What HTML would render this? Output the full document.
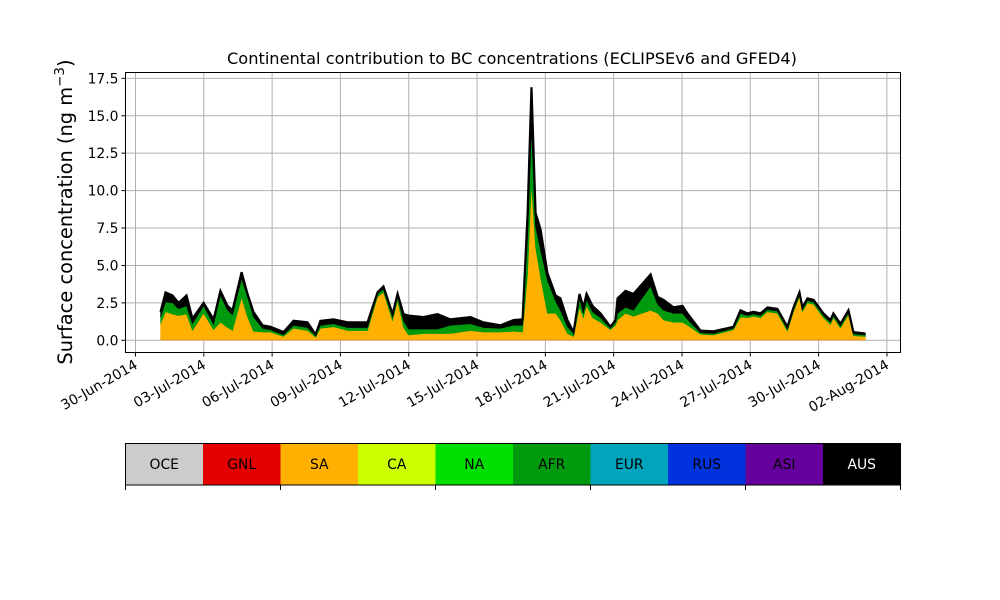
<!DOCTYPE html>
<html><head><meta charset="utf-8"><style>
html,body{margin:0;padding:0;background:#fff;}
svg{display:block;font-family:"DejaVu Sans","Liberation Sans",sans-serif;}
</style></head><body>
<svg id="chart" width="1000" height="600" viewBox="0 0 1000 600"></svg>
<script>
const days=[1.10,1.32,1.62,1.89,2.24,2.50,2.99,3.43,3.73,4.04,4.26,4.66,4.92,5.18,5.58,5.93,6.50,6.94,7.55,7.91,8.12,8.70,9.31,10.19,10.63,10.89,11.29,11.51,11.77,11.99,12.65,13.26,13.83,14.71,15.28,16.03,16.60,17.00,17.22,17.39,17.57,17.79,18.09,18.45,18.66,18.97,19.24,19.50,19.67,19.81,20.07,20.42,20.86,21.08,21.17,21.52,21.87,22.62,22.93,23.19,23.63,24.02,24.24,24.81,25.38,26.26,26.57,26.87,27.14,27.45,27.76,28.19,28.63,28.90,29.16,29.29,29.51,29.78,30.21,30.52,30.65,30.96,31.31,31.53,32.06];
const sa=[1.1,1.9,1.75,1.65,1.75,0.65,1.8,0.7,1.2,0.85,0.65,2.85,1.55,0.6,0.55,0.55,0.25,0.8,0.65,0.2,0.8,0.9,0.65,0.65,2.9,3.2,1.3,2.65,0.85,0.35,0.45,0.45,0.45,0.65,0.55,0.55,0.6,0.55,4.4,10.4,6.2,4.2,1.8,1.8,1.35,0.45,0.25,2.2,1.5,2.3,1.5,1.2,0.7,1.0,1.35,1.8,1.6,2.0,1.8,1.35,1.2,1.2,1.0,0.4,0.35,0.7,1.55,1.5,1.6,1.5,1.9,1.8,0.6,1.9,2.9,1.9,2.5,2.4,1.5,1.05,1.5,0.8,1.7,0.3,0.25];
const afr=[0.45,0.65,0.75,0.45,0.55,0.45,0.5,0.35,1.8,1.15,1.05,1.25,1.35,0.95,0.25,0.15,0.1,0.2,0.2,0.1,0.2,0.2,0.2,0.2,0.2,0.2,0.25,0.25,0.45,0.4,0.3,0.3,0.55,0.45,0.3,0.25,0.4,0.45,2.5,3.6,1.4,1.8,2.2,0.8,0.65,0.45,0.2,0.6,0.3,0.4,0.4,0.3,0.1,0.2,0.45,0.4,0.4,1.6,0.6,0.65,0.6,0.6,0.4,0.1,0.1,0.1,0.25,0.15,0.15,0.15,0.15,0.15,0.15,0.15,0.15,0.15,0.15,0.15,0.15,0.15,0.15,0.15,0.15,0.12,0.1];
const aus=[0.35,0.65,0.5,0.4,0.7,0.35,0.2,0.35,0.3,0.3,0.3,0.45,0.2,0.35,0.2,0.2,0.2,0.3,0.35,0.1,0.3,0.3,0.35,0.35,0.1,0.2,0.2,0.2,0.45,0.9,0.8,1.0,0.4,0.45,0.35,0.2,0.35,0.4,1.6,2.9,0.9,1.4,0.5,0.4,0.8,0.45,0.1,0.3,0.4,0.4,0.4,0.3,0.1,0.15,1.0,1.1,1.1,0.8,0.5,0.7,0.4,0.5,0.4,0.15,0.15,0.1,0.2,0.15,0.15,0.15,0.15,0.15,0.15,0.15,0.15,0.15,0.15,0.15,0.15,0.15,0.15,0.15,0.15,0.13,0.1];
const yTicks=[0,2.5,5,7.5,10,12.5,15,17.5];
const xTickDays=[0,3,6,9,12,15,18,21,24,27,30,33];
const xTickLabels=["30-Jun-2014","03-Jul-2014","06-Jul-2014","09-Jul-2014","12-Jul-2014","15-Jul-2014","18-Jul-2014","21-Jul-2014","24-Jul-2014","27-Jul-2014","30-Jul-2014","02-Aug-2014"];
const regions=["OCE","GNL","SA","CA","NA","AFR","EUR","RUS","ASI","AUS"];
const regionColors=["#cccccc","#e30000","#ffb000","#ccff00","#00e000","#009a0e","#00a5bd","#0033dd","#66009c","#000000"];

const NS="http://www.w3.org/2000/svg";
const svg=document.getElementById('chart');
function mk(tag,attrs,parent){const e=document.createElementNS(NS,tag);for(const k in attrs)e.setAttribute(k,attrs[k]);(parent||svg).appendChild(e);return e;}
const L=125.5,R=900.5,T=72.5,B=352.5;
const xs=d=>135.5+d*22.77;
const ys=v=>340.3-v*14.97;

const grid=mk('g',{});


yTicks.forEach(v=>mk('line',{x1:L,x2:R,y1:ys(v),y2:ys(v),stroke:'#b0b0b0','stroke-width':1},grid));
xTickDays.forEach(d=>mk('line',{x1:xs(d),x2:xs(d),y1:T,y2:B,stroke:'#b0b0b0','stroke-width':1},grid));

let base=days.map(()=>0);
function area(vals,color,name){
  const top=vals.map((v,i)=>base[i]+v);
  let p='M'+days.map((d,i)=>xs(d)+','+ys(top[i])).join('L');
  for(let i=days.length-1;i>=0;i--)p+='L'+xs(days[i])+','+ys(base[i]);
  const e=mk('path',{d:p+'Z',fill:color,stroke:color,'stroke-width':0.5});
  
  
  base=top;return top;
}
area(sa,'#ffb000','area-sa');
area(afr,'#009a0e','area-afr');
const total=area(aus,'#000000','area-aus');
const outline=mk('path',{d:'M'+days.map((d,i)=>xs(d)+','+ys(total[i])).join('L'),fill:'none',stroke:'#000','stroke-width':2.2});


const red=mk('line',{x1:xs(days[0]),x2:xs(days[days.length-1]),y1:340,y2:340,stroke:'#e88060','stroke-width':1,opacity:0.6});



const frame=mk('rect',{x:L,y:T,width:R-L,height:B-T,fill:'none',stroke:'#000','stroke-width':1});



yTicks.forEach(v=>{
  mk('line',{x1:L-4,x2:L,y1:ys(v),y2:ys(v),stroke:'#000'});
  const t=mk('text',{x:L-7,y:ys(v)+5,'text-anchor':'end','font-size':13.9});
  t.textContent=v.toFixed(1);
  
  
});
xTickDays.forEach((d,i)=>{
  mk('line',{x1:xs(d),x2:xs(d),y1:B,y2:B+4,stroke:'#000'});
  const t=mk('text',{x:0,y:0,'text-anchor':'end','font-size':13.9,transform:`translate(${xs(d)+3},${B+15}) rotate(-30)`});
  t.textContent=xTickLabels[i];
  
  
});

const title=mk('text',{x:512,y:64,'text-anchor':'middle','font-size':16.2});
title.textContent='Continental contribution to BC concentrations (ECLIPSEv6 and GFED4)';



const yl=mk('text',{x:0,y:0,'text-anchor':'middle','font-size':19.4,transform:'translate(72,212) rotate(-90)'});
yl.innerHTML='Surface concentration (ng m<tspan dy="-8" font-size="13.5">−3</tspan><tspan dy="8">)</tspan>';



const cw=77.5;
regions.forEach((r,i)=>{
  const x=125.5+i*cw;
  const c=mk('rect',{x:x,y:443.5,width:cw,height:41.5,fill:regionColors[i]});
  
  
  const t=mk('text',{x:x+cw/2,y:469,'text-anchor':'middle','font-size':13.9,fill:r==='AUS'?'#fff':'#000'});
  t.textContent=r;
  
  
});
const cb=mk('rect',{x:125.5,y:443.5,width:775,height:41.5,fill:'none',stroke:'#000','stroke-width':1});


[0,2,4,6,8,10].forEach(k=>mk('line',{x1:125.5+k*cw,x2:125.5+k*cw,y1:485,y2:490,stroke:'#000'}));
</script>
</body></html>
